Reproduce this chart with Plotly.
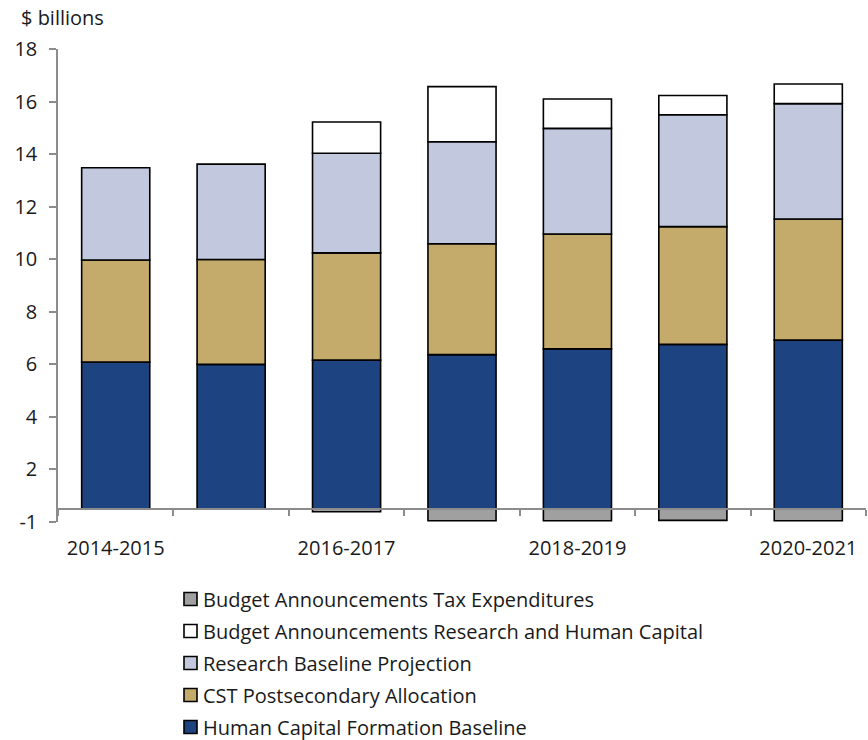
import math
import plotly.graph_objects as go

# Fiscal years on the horizontal axis
years = ["2014-2015", "2015-2016", "2016-2017", "2017-2018",
         "2018-2019", "2019-2020", "2020-2021"]

# Spending components, $ billions
human_capital = [5.59, 5.50, 5.66, 5.87, 6.09, 6.26, 6.42]
cst_postsecondary = [3.88, 3.99, 4.08, 4.22, 4.37, 4.48, 4.61]
research_baseline = [3.51, 3.63, 3.79, 3.88, 4.02, 4.26, 4.39]
budget_research_hc = [None, None, 1.19, 2.10, 1.12, 0.73, 0.75]
budget_tax_exp = [None, None, -0.11, -0.45, -0.45, -0.44, -0.45]

# Value axis: -0.5 to 17.5 with a step of 2, labels shown as whole numbers
y_min, y_max, y_step = -0.5, 17.5, 2
y_ticks = [y_min + y_step * k for k in range(int((y_max - y_min) / y_step) + 1)]


def whole(v):
    return str(int(math.copysign(math.floor(abs(v) + 0.5), v)))


y_labels = [whole(v) for v in y_ticks]

# Only every other year is labelled
x_labels = [y if i % 2 == 0 else "" for i, y in enumerate(years)]

series = [
    ("Human Capital Formation Baseline", human_capital, "#1d4480"),
    ("CST Postsecondary Allocation", cst_postsecondary, "#c4aa6b"),
    ("Research Baseline Projection", research_baseline, "#c2c8dd"),
    ("Budget Announcements Research and Human Capital", budget_research_hc, "#ffffff"),
    ("Budget Announcements Tax Expenditures", budget_tax_exp, "#a0a0a0"),
]

FONT = "Open Sans, Noto Sans, sans-serif"
FS = 20
TXT = "#1a1a1a"

fig = go.Figure()
for name, vals, color in series:
    fig.add_trace(go.Bar(
        x=years, y=vals, name=name,
        marker=dict(color=color, line=dict(color="#000000", width=1.6)),
    ))

W, H = 868, 740
L, R, T, B = 58, 2, 49, 218
plot_w = W - L - R
plot_h = H - T - B


def px_x(px):
    return (px - L) / plot_w


def px_y(py):
    return (T + plot_h - py) / plot_h


axis_pos = (0 - y_min) / (y_max - y_min)

# Legend below the plot, newest component first
shapes, annotations = [], []
row0, row_step, sw = 599, 32, 13
for k, (name, _, color) in enumerate(reversed(series)):
    cy = row0 + row_step * k
    shapes.append(dict(
        type="rect", xref="paper", yref="paper",
        x0=px_x(184), x1=px_x(184 + sw),
        y0=px_y(cy + sw / 2), y1=px_y(cy - sw / 2),
        fillcolor=color, line=dict(color="#000000", width=1.6),
    ))
    annotations.append(dict(
        text=name, xref="paper", yref="paper",
        x=px_x(201), y=px_y(cy), xanchor="left", yanchor="middle",
        showarrow=False, font=dict(family=FONT, size=FS, color=TXT),
    ))

annotations.append(dict(
    text="$ billions", xref="paper", yref="paper",
    x=px_x(19), y=px_y(18),
    xanchor="left", yanchor="middle", showarrow=False,
    font=dict(family=FONT, size=FS, color=TXT),
))

fig.update_layout(
    width=W, height=H,
    margin=dict(l=L, r=R, t=T, b=B),
    paper_bgcolor="white", plot_bgcolor="white",
    barmode="relative", bargap=0.41,
    font=dict(family=FONT, size=FS, color=TXT),
    showlegend=False,
    xaxis=dict(
        type="category",
        anchor="free", position=axis_pos,
        tickmode="array", tickvals=years, ticktext=x_labels,
        tickson="boundaries", ticks="outside", ticklen=6,
        tickcolor="#8c8c8c", tickwidth=1.5,
        showline=True, linecolor="#8c8c8c", linewidth=1.5,
        showgrid=False, zeroline=False,
        ticklabelstandoff=21,
        tickfont=dict(family=FONT, size=FS, color=TXT),
    ),
    yaxis=dict(
        range=[y_min, y_max],
        tickmode="array", tickvals=y_ticks, ticktext=y_labels,
        ticks="outside", ticklen=7, tickcolor="#8c8c8c", tickwidth=1.5,
        showline=True, linecolor="#8c8c8c", linewidth=1.5,
        showgrid=False, zeroline=False,
        ticklabelstandoff=8,
        tickfont=dict(family=FONT, size=FS, color=TXT),
    ),
    shapes=shapes,
    annotations=annotations,
)

fig.write_html("out.html")
